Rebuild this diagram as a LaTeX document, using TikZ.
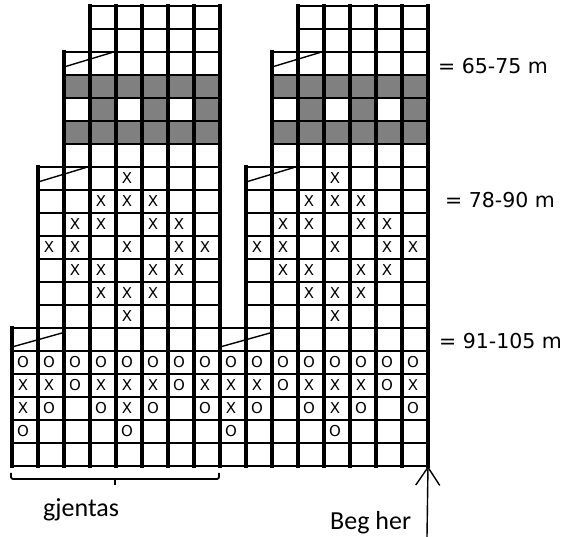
\documentclass[tikz,border=0pt]{standalone}
\usepackage{fontspec}
\newfontfamily\dvfont{DejaVu Sans}
\newfontfamily\cbfont{Carlito}
\usetikzlibrary{arrows.meta}
\definecolor{chartgray}{HTML}{808080}
% grid block: columns #1..#2, rows #3..#4 (1-based, rows from top)
\newcommand\chartblock[4]{%
  \pgfmathsetmacro\bxa{12+26*(#1-1)}%
  \pgfmathsetmacro\bxb{12+26*#2}%
  \pgfmathsetmacro\bya{6+23*(#3-1)}%
  \pgfmathsetmacro\byb{6+23*#4}%
  \pgfmathtruncatemacro\bra{#3-1}%
  \pgfmathtruncatemacro\bca{#1-1}%
  \foreach \rr in {\bra,...,#4}{\draw[hline] (\bxa,{6+23*\rr}) -- (\bxb,{6+23*\rr});}%
  \foreach \cc in {\bca,...,#2}{\draw[vline] ({12+26*\cc},\bya) -- ({12+26*\cc},\byb);}%
}
\newcommand\graysq[2]{\fill[chartgray] ({12+26*(#1-1)},{6+23*(#2-1)}) rectangle ({12+26*#1},{6+23*#2});}
% decrease slash over two cells starting at column #1, row #2
\newcommand\slashA[2]{\draw[diag] ({12+26*(#1-1)},{6+23*#2-8}) -- ({12+26*(#1-1)+48},{6+23*(#2-1)+0.5});}
\newcommand\slashB[2]{\draw[diag] ({12+26*(#1-1)},{6+23*#2-4}) -- ({12+26*(#1-1)+50},{6+23*(#2-1)+5});}
\begin{document}
\begin{tikzpicture}[x=1pt,y=-1pt,
  hline/.style={line width=2.6pt,line cap=rect},
  vline/.style={line width=3.2pt,line cap=rect},
  diag/.style={line width=1.4pt},
  cellmark/.style={font=\dvfont\fontsize{15}{17}\selectfont,inner sep=0pt,xshift=-2pt},
  rangelabel/.style={font=\dvfont\fontsize{20.5}{24}\selectfont,inner sep=0pt,anchor=base west},
  notelabel/.style={font=\cbfont\fontsize{26}{30}\selectfont,inner sep=0pt,anchor=base west},
  bracket/.style={line width=1.8pt,rounded corners=2pt},
  pointer/.style={line width=1.4pt,-{Straight Barb[length=18pt,width=24pt,line width=1.4pt]}}]
\useasboundingbox (0,0) rectangle (574,537);
% gray bands
\foreach \c in {3,...,8,11,12,...,16}{\graysq{\c}{4}\graysq{\c}{6}}
\foreach \c in {4,6,8,12,14,16}{\graysq{\c}{5}}
% grid blocks
\chartblock{4}{8}{1}{2}
\chartblock{12}{16}{1}{2}
\chartblock{3}{8}{3}{7}
\chartblock{11}{16}{3}{7}
\chartblock{2}{8}{8}{14}
\chartblock{10}{16}{8}{14}
\chartblock{1}{16}{15}{20}
% slashes
\slashA{3}{3}\slashA{11}{3}
\slashA{2}{8}\slashA{10}{8}
\slashB{1}{15}\slashB{9}{15}
% middle motif
\foreach \r/\js in {8/{4},9/{3,4,5},10/{2,3,5,6},11/{1,2,4,6,7},12/{2,3,5,6},13/{3,4,5},14/{4}}{
  \foreach \j in \js {
    \foreach \off in {1,9}{
      \pgfmathtruncatemacro\cc{\j+\off}
      \node[cellmark] (m-\r-\cc) at ({12+26*\cc-13},{6+23*\r-11.5}) {X};
    }
  }
}
% bottom border
\foreach \k in {0,...,3}{
  \foreach \p/\s in {1/O,2/O,3/O,4/O}{
    \pgfmathtruncatemacro\cc{4*\k+\p}
    \node[cellmark] (b16-\cc) at ({12+26*\cc-13},{6+23*16-11.5}) {\s};
  }
  \foreach \p/\s in {1/X,2/X,3/O,4/X}{
    \pgfmathtruncatemacro\cc{4*\k+\p}
    \node[cellmark] (b17-\cc) at ({12+26*\cc-13},{6+23*17-11.5}) {\s};
  }
  \foreach \p/\s in {1/X,2/O,4/O}{
    \pgfmathtruncatemacro\cc{4*\k+\p}
    \node[cellmark] (b18-\cc) at ({12+26*\cc-13},{6+23*18-11.5}) {\s};
  }
  \pgfmathtruncatemacro\cc{4*\k+1}
  \node[cellmark] (b19-\cc) at ({12+26*\cc-13},{6+23*19-11.5}) {O};
}
% labels
\node[rangelabel] (l1) at (438,74) {= 65-75 m};
\node[rangelabel] (l2) at (445,208) {= 78-90 m};
\node[rangelabel] (l3) at (439,349) {= 91-105 m};
% repeat bracket
\draw[bracket] (11,473) -- (11,479) -- (219,479) -- (219,473);
\draw[line width=1.8pt] (115,479) -- (115,485);
\node[notelabel] (rep) at (43,517) {gjentas};
% start arrow
\node[notelabel] (beg) at (330,530) {Beg her};
\coordinate (begcorner) at (428,466);
\coordinate (begfoot) at (427,537);
\draw[pointer] (begfoot) -- (begcorner);
\end{tikzpicture}
\end{document}
